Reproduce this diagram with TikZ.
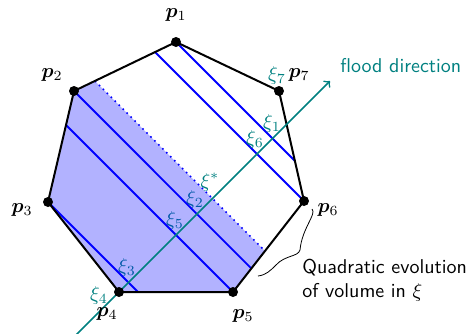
\documentclass[tikz,border=0pt]{standalone}
\usepackage{amsmath,bm}
\usetikzlibrary{calc}
\begin{document}
\begin{tikzpicture}[x=0.5pt,y=-0.5pt,
  edge/.style={line width=1pt, black},
  lvl/.style={blue, line width=0.9pt},
  lbl/.style={text=teal, inner sep=0pt},
  plbl/.style={inner sep=0pt},
  vtx/.style={circle, fill=black, inner sep=0pt, minimum size=5pt}]
\useasboundingbox (0,0) rectangle (467,333);
% vertices
\coordinate (p1) at (176,42);
\coordinate (p2) at (74,91);
\coordinate (p3) at (48,202);
\coordinate (p4) at (119,292);
\coordinate (p5) at (233,292);
\coordinate (p6) at (304,201);
\coordinate (p7) at (279,91);
% level line end points
\coordinate (q12) at ($(p1)!0.795!(p2)$);
\coordinate (q56) at ($(p5)!0.4506!(p6)$);
\coordinate (a23) at ($(p2)!0.3066!(p3)$);
\coordinate (b45) at ($(p4)!0.1667!(p5)$);
\coordinate (c56) at ($(p5)!0.259!(p6)$);
\coordinate (d12) at ($(p1)!0.2053!(p2)$);
\coordinate (e67) at ($(p6)!0.3647!(p7)$);
% labels under the shading
\node[lbl] (x2) at (195,199) {$\xi_2$};
\node[lbl] (x5) at (175,220) {$\xi_5$};
\node[lbl] (x3) at (127,267) {$\xi_3$};
% shaded region
\fill[blue, opacity=0.3] (p2) -- (p3) -- (p4) -- (p5) -- (q56) -- (q12) -- cycle;
\draw[blue, dotted, thick] (q12) -- (q56);
% level lines
\draw[lvl] (p3) -- (b45);
\draw[lvl] (a23) -- (p5);
\draw[lvl] (p2) -- (c56);
\draw[lvl] (d12) -- (p6);
\draw[lvl] (p1) -- (e67);
% polygon
\draw[edge] (p1) -- (p2) -- (p3) -- (p4) -- (p5) -- (p6) -- (p7) -- cycle;
% flood direction
\coordinate (fs) at ($(p4)+(-45,45)$);
\coordinate (fe) at (330,81);
\draw[teal, thick, ->] (fs) -- (fe);
\node[text=teal, font=\sffamily, anchor=west, inner sep=0pt] (fd) at (340,66) {flood direction};
% vertex dots
\foreach \i in {1,...,7} \node[vtx] (d\i) at (p\i) {};
% vertex labels
\node[plbl] (l1) at (176,15) {$\bm{p}_1$};
\node[plbl] (l2) at (52,75) {$\bm{p}_2$};
\node[plbl] (l3) at (22,210) {$\bm{p}_3$};
\node[plbl] (l4) at (107,314) {$\bm{p}_4$};
\node[plbl] (l5) at (243,316) {$\bm{p}_5$};
\node[plbl] (l6) at (328,210) {$\bm{p}_6$};
\node[plbl] (l7) at (299,75) {$\bm{p}_7$};
% xi labels
\node[lbl] (x7) at (277,75) {$\xi_7$};
\node[lbl] (x1) at (272,123) {$\xi_1$};
\node[lbl] (x6) at (255,139) {$\xi_6$};
\node[lbl] (xs) at (210,182) {$\xi^*$};
\node[lbl] (x4) at (99,295) {$\xi_4$};
% brace
\draw (312,209) .. controls (317,214) and (302,228) .. (300,250)
      .. controls (298,257) and (285,255) .. (276,265)
      .. controls (270,271) and (266,275) .. (258,276);
\node[anchor=north west, align=left, font=\sffamily, inner sep=0pt] (qe) at (302,259)
  {Quadratic evolution\\of volume in $\xi$};
\end{tikzpicture}
\end{document}
